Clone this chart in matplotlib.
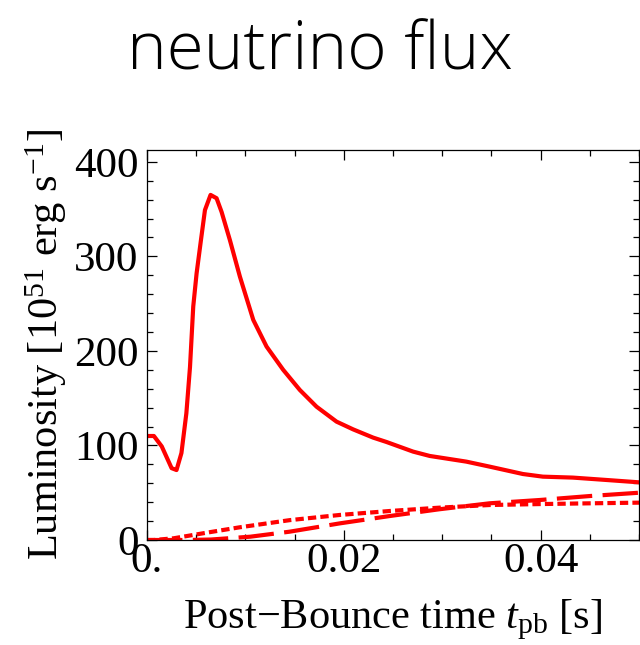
import matplotlib
matplotlib.use("Agg")
import matplotlib.pyplot as plt
from matplotlib.ticker import MultipleLocator, FixedLocator

plt.rcParams["mathtext.fontset"] = "custom"
plt.rcParams["mathtext.rm"] = "Liberation Serif"
plt.rcParams["mathtext.it"] = "Liberation Serif:italic"
plt.rcParams["font.family"] = "Liberation Serif"

# Electron-neutrino luminosity (solid)
t_nue = [0.0, 0.0007, 0.0015, 0.0025, 0.003, 0.0035, 0.004, 0.00437, 0.0047,
         0.00504, 0.00548, 0.00589, 0.00646, 0.00707, 0.00758, 0.00843,
         0.00944, 0.0108, 0.01215, 0.01384, 0.01553, 0.01723, 0.01926,
         0.02095, 0.02298, 0.02433, 0.02704, 0.02873, 0.03245, 0.03482,
         0.0382, 0.04023, 0.04328, 0.04667, 0.05]
L_nue = [110, 110, 99, 76, 74, 92, 134, 183, 247, 282, 317, 349, 365, 361.5,
         347, 317, 278.6, 232.8, 204.6, 180, 158.7, 141, 125.2, 117, 108.3,
         103.7, 93.5, 88.9, 82.9, 77.6, 69.8, 67, 66, 63.5, 61]

# Electron-antineutrino luminosity (short dashes)
t_anue = [0.0, 0.0007, 0.0027, 0.0061, 0.0094, 0.0145, 0.0196, 0.0247,
          0.0297, 0.0348, 0.0399, 0.045, 0.05]
L_anue = [0, 0, 1.8, 7.8, 13.4, 21, 26.5, 30.7, 34.2, 37, 38, 38.8, 39.5]

# Heavy-lepton neutrino luminosity (long dashes)
t_nux = [0.0, 0.004, 0.0065, 0.0105, 0.0145, 0.0196, 0.0247, 0.0297,
         0.0348, 0.0399, 0.045, 0.05]
L_nux = [0, 0, 0.5, 3.5, 8.8, 17.6, 25.4, 32.5, 38.8, 42.3, 46.5, 50]

x_ticks = [0.0, 0.02, 0.04]
x_ticklabels = ["0.", "0.02", "0.04"]
y_ticks = [0, 100, 200, 300, 400]
y_ticklabels = ["0", "100", "200", "300", "400"]

fig = plt.figure(figsize=(6.4, 6.45), dpi=100)
ax = fig.add_axes([147 / 640, 1 - 540 / 645, 492 / 640, 390 / 645])

red = "#ff0000"
lw = 3.0
ax.plot(t_nue, L_nue, color=red, lw=lw, solid_joinstyle="round")
ax.plot(t_anue, L_anue, color=red, lw=lw, dashes=(2.0, 1.0))
ax.plot(t_nux, L_nux, color=red, lw=lw, dashes=(8.5, 2.5))

ax.set_xlim(0, 0.05)
ax.set_ylim(0, 412.5)

ax.xaxis.set_major_locator(FixedLocator(x_ticks))
ax.set_xticklabels(x_ticklabels)
ax.xaxis.set_minor_locator(MultipleLocator(0.005))
ax.yaxis.set_major_locator(FixedLocator(y_ticks))
ax.set_yticklabels(y_ticklabels)
ax.yaxis.set_minor_locator(MultipleLocator(20))

ax.tick_params(which="both", direction="in", top=True, right=True,
               width=0.9, colors="black", labelsize=31)
ax.tick_params(which="major", length=7)
ax.tick_params(axis="x", which="major", pad=2)
ax.tick_params(axis="y", which="major", pad=6)
ax.tick_params(which="minor", length=4.5)
for s in ax.spines.values():
    s.set_linewidth(0.9)

ax.set_xlabel(r"Post$-$Bounce time $t_{\mathrm{pb}}$ [s]", fontsize=30.5, labelpad=12)
ax.set_ylabel(r"Luminosity [10$^{51}$ erg s$^{-1}$]", fontsize=30.5, labelpad=4)

fig.text(0.5, 1 - 70 / 645, "neutrino flux", ha="center", va="baseline",
         fontsize=48.5, family="Open Sans", fontweight="light", color="black")

fig.savefig("out.png", dpi=100)
